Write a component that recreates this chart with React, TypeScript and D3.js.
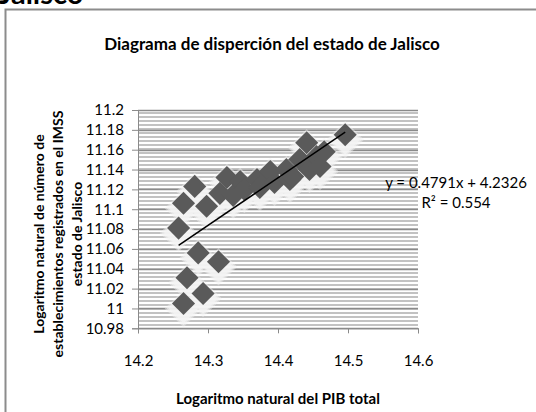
import React, { useEffect, useRef } from 'react';
import * as d3 from 'd3';

// valores (ln PIB total, ln establecimientos IMSS)
const pibLog = [
  14.265, 14.293, 14.27, 14.315, 14.286, 14.258, 14.265, 14.281, 14.298, 14.317, 14.327,
  14.336, 14.346, 14.352, 14.37, 14.374, 14.389, 14.395, 14.412, 14.417, 14.421, 14.431,
  14.441, 14.445, 14.455, 14.46, 14.466, 14.496,
];
const estabLog = [
  11.005, 11.015, 11.031, 11.047, 11.056, 11.081, 11.106, 11.123, 11.103, 11.116, 11.132,
  11.114, 11.128, 11.12, 11.13, 11.122, 11.138, 11.127, 11.14, 11.13, 11.133, 11.15,
  11.167, 11.14, 11.153, 11.143, 11.158, 11.175,
];
const xTicks = [14.2, 14.3, 14.4, 14.5, 14.6];
const yTicks = [10.98, 11, 11.02, 11.04, 11.06, 11.08, 11.1, 11.12, 11.14, 11.16, 11.18, 11.2];
const slope = 0.4791;
const intercept = 4.2326;
const eqLines = ['y = 0.4791x + 4.2326', 'R² = 0.554'];
const yTitleLines = ['Logaritmo natural de número de', 'establecimientos registrados en el IMSS', 'estado de Jalisco'];

const App: React.FC = () => {
  const svgRef = useRef<SVGSVGElement>(null);

  useEffect(() => {
    if (!svgRef.current) return;
    const svg = d3.select(svgRef.current);
    svg.selectAll('*').remove();
    const font = 'Lato, Calibri, sans-serif';

    const x = d3.scaleLinear().domain([14.2, 14.6]).range([138, 418]);
    const y = d3.scaleLinear().domain([10.98, 11.2]).range([328.3, 110]);

    const defs = svg.append('defs');
    const pat = defs
      .append('pattern')
      .attr('id', 'stripes')
      .attr('patternUnits', 'userSpaceOnUse')
      .attr('width', 8)
      .attr('height', 4);
    pat.append('rect').attr('width', 8).attr('height', 4).attr('fill', '#fff');
    pat.append('rect').attr('y', 0).attr('width', 8).attr('height', 2).attr('fill', '#c2c2c2');

    // texto cortado arriba
    svg
      .append('text')
      .attr('x', -1)
      .attr('y', 4)
      .attr('font-family', font)
      .attr('font-weight', 'bold')
      .attr('font-size', 29)
      .text('Jalisco');

    // marco del grafico
    svg
      .append('rect')
      .attr('x', 5.5)
      .attr('y', 9.5)
      .attr('width', 700)
      .attr('height', 600)
      .attr('fill', '#fff')
      .attr('stroke', '#8c8c8c')
      .attr('stroke-width', 2);

    svg
      .append('text')
      .attr('x', 272)
      .attr('y', 50)
      .attr('text-anchor', 'middle')
      .attr('font-family', font)
      .attr('font-weight', 'bold')
      .attr('font-size', 17)
      .text('Diagrama de disperción del estado de Jalisco');

    // area de trazado
    svg
      .append('rect')
      .attr('x', x(14.2))
      .attr('y', y(11.2))
      .attr('width', x(14.6) - x(14.2))
      .attr('height', y(10.98) - y(11.2))
      .attr('fill', 'url(#stripes)');

    svg
      .append('g')
      .selectAll('line')
      .data(yTicks)
      .enter()
      .append('line')
      .attr('x1', x(14.2))
      .attr('x2', x(14.6))
      .attr('y1', (d) => Math.round(y(d)) + 0.5)
      .attr('y2', (d) => Math.round(y(d)) + 0.5)
      .attr('stroke', '#8a8a8a')
      .attr('stroke-width', 1.5);

    const yAxis = svg
      .append('g')
      .attr('transform', `translate(${x(14.2)},0)`)
      .call(d3.axisLeft(y).tickValues(yTicks).tickSize(6).tickPadding(8).tickFormat((d) => d3.format('')(+(+d).toFixed(2))));
    yAxis.select('.domain').attr('stroke', '#8a8a8a');
    yAxis.selectAll('line').attr('stroke', '#8a8a8a');
    yAxis.selectAll('text').attr('font-family', font).attr('font-size', 15).attr('fill', '#000');

    const xAxis = svg
      .append('g')
      .attr('transform', `translate(0,${y(10.98)})`)
      .call(d3.axisBottom(x).tickValues(xTicks).tickSize(5).tickPadding(22).tickFormat(d3.format('.1f')));
    xAxis.select('.domain').attr('stroke', '#8a8a8a');
    xAxis.selectAll('line').attr('stroke', '#8a8a8a');
    xAxis.selectAll('text').attr('font-family', font).attr('font-size', 15).attr('fill', '#000');

    // puntos con halo claro (capas concentricas) desplazado hacia abajo
    const pts = pibLog.map((v, i) => [v, estabLog[i]]);
    const haloSizes = [900, 720, 560];
    haloSizes.forEach((s, k) => {
      svg
        .append('g')
        .attr('opacity', 0.45 + k * 0.15)
        .selectAll('path')
        .data(pts)
        .enter()
        .append('path')
        .attr('d', d3.symbol().type(d3.symbolDiamond2).size(s))
        .attr('transform', (d) => `translate(${x(d[0])},${y(d[1]) + 5})`)
        .attr('fill', '#f4f4f4');
    });

    svg
      .append('g')
      .selectAll('path')
      .data(pts)
      .enter()
      .append('path')
      .attr('d', d3.symbol().type(d3.symbolDiamond2).size(340))
      .attr('transform', (d) => `translate(${x(d[0])},${y(d[1])})`)
      .attr('fill', '#5a5a5a');

    // linea de tendencia
    const [x0, x1] = d3.extent(pibLog) as [number, number];
    svg
      .append('line')
      .attr('x1', x(x0))
      .attr('y1', y(slope * x0 + intercept))
      .attr('x2', x(x1))
      .attr('y2', y(slope * x1 + intercept))
      .attr('stroke', '#000')
      .attr('stroke-width', 1.5);

    svg
      .append('g')
      .selectAll('text')
      .data(eqLines)
      .enter()
      .append('text')
      .attr('x', 456)
      .attr('y', (d, i) => 188 + i * 20)
      .attr('text-anchor', 'middle')
      .attr('font-family', font)
      .attr('font-size', 15)
      .text((d) => d);

    svg
      .append('text')
      .attr('x', 278)
      .attr('y', 404)
      .attr('text-anchor', 'middle')
      .attr('font-family', font)
      .attr('font-weight', 'bold')
      .attr('font-size', 15)
      .text('Logaritmo natural del PIB total');

    svg
      .append('g')
      .selectAll('text')
      .data(yTitleLines)
      .enter()
      .append('text')
      .attr('transform', (d, i) => `translate(${38 + i * 19},234) rotate(-90)`)
      .attr('text-anchor', 'middle')
      .attr('dominant-baseline', 'central')
      .attr('font-family', font)
      .attr('font-weight', 'bold')
      .attr('font-size', 14)
      .text((d) => d);
  }, []);

  return <svg ref={svgRef} width={536} height={412} style={{ position: 'absolute', left: 0, top: 0 }} />;
};

export default App;
